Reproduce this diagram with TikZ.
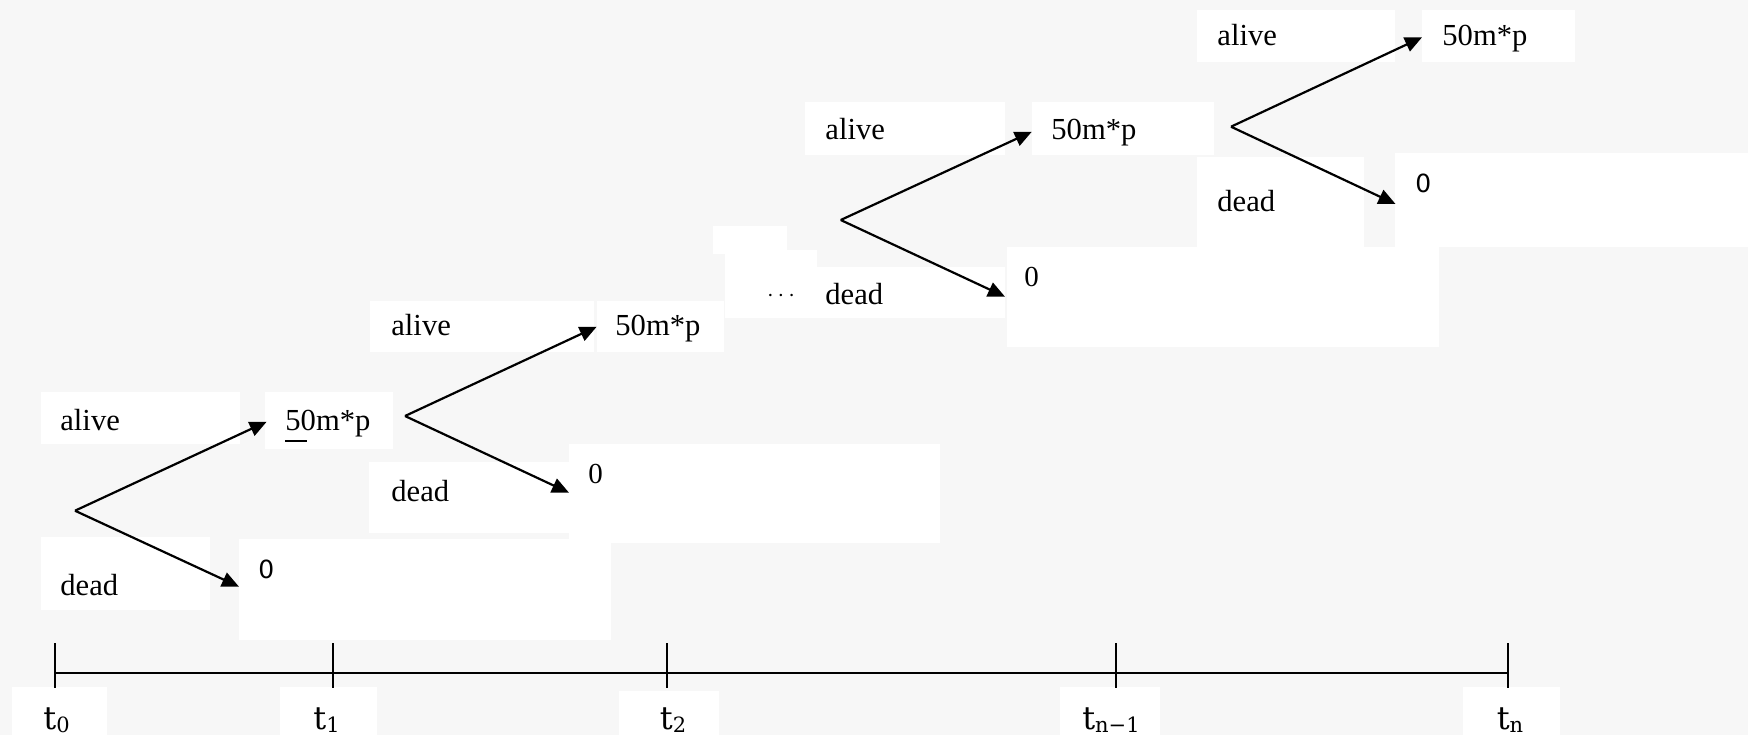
\documentclass[tikz,border=0pt]{standalone}
\usepackage{fontspec}
\setmainfont{Liberation Serif}
\newfontfamily\tfont{DejaVu Serif}
\newfontfamily\zfont{DejaVu Sans}
\usetikzlibrary{arrows.meta}
\newcommand{\tsub}[1]{{\fontsize{10.5}{12}\selectfont\raisebox{-1.5pt}{#1}}}
\begin{document}
\begin{tikzpicture}[x=0.5pt,y=-0.5pt,
  lbl/.style={inner sep=0pt, anchor=base west, font=\fontsize{15.3}{18}\selectfont},
  zlbl/.style={inner sep=0pt, anchor=base west, font=\zfont\fontsize{12.5}{15}\selectfont},
  zslbl/.style={inner sep=0pt, anchor=base west, font=\fontsize{14.5}{17}\selectfont},
  tlbl/.style={inner sep=0pt, anchor=base, font=\tfont\fontsize{16}{19}\selectfont},
  br/.style={line width=1.1pt, -{Triangle[length=8.5pt,width=7.5pt]}},
  axisline/.style={line width=0.9pt},
  wbox/.style={fill=white, draw=none}]
\useasboundingbox (0,0) rectangle (1748,735);
\fill[black!3] (0,0) rectangle (1748,735);
% white boxes behind texts
% tree 1
\fill[wbox] (41,392) rectangle (240,444);
\fill[wbox] (265,392) rectangle (393,449);
\fill[wbox] (41,537) rectangle (210,610);
\fill[wbox] (239,539) rectangle (611,640);
% tree 2
\fill[wbox] (370,301) rectangle (594,352);
\fill[wbox] (597,301) rectangle (724,352);
\fill[wbox] (369,462) rectangle (569,533);
\fill[wbox] (569,444) rectangle (940,543);
% tree 3
\fill[wbox] (805,102) rectangle (1005,155);
\fill[wbox] (1032,102) rectangle (1214,155);
\fill[wbox] (817,267) rectangle (1005,318);
\fill[wbox] (725,250) rectangle (817,318);
\fill[wbox] (713,226) rectangle (787,254);
\fill[wbox] (1007,247) rectangle (1439,347);
% tree 4
\fill[wbox] (1197,10) rectangle (1395,62);
\fill[wbox] (1422,10) rectangle (1575,62);
\fill[wbox] (1197,157) rectangle (1364,247);
\fill[wbox] (1395,153) rectangle (1748,247);
% time labels
\fill[wbox] (12,687) rectangle (107,735);
\fill[wbox] (280,687) rectangle (377,735);
\fill[wbox] (619,691) rectangle (719,735);
\fill[wbox] (1060,687) rectangle (1160,735);
\fill[wbox] (1463,687) rectangle (1560,735);

% ---------- tree 1
\coordinate (r1) at (75,510.7);
\coordinate (u1) at (266.7,421.7);
\coordinate (d1) at (239,586.7);
\node[lbl] (alive1) at (60,430) {alive};
\node[lbl] (dead1) at (60,595) {dead};
\node[lbl] (val1) at (285,430) {50m*p};
\node[zlbl] (zero1) at (258,578) {0};
\draw[line width=0.7pt] (val1.base west) ++(0,11) coordinate (ul1) -- ++(22,0) coordinate (ul2);
\draw[br] (r1) -- (u1);
\draw[br] (r1) -- (d1);

% ---------- tree 2
\coordinate (r2) at (405,416);
\coordinate (u2) at (596.7,326.7);
\coordinate (d2) at (569,492.7);
\node[lbl] (alive2) at (391,335) {alive};
\node[lbl] (dead2) at (391,501.7) {dead};
\node[lbl] (val2) at (615,335) {50m*p};
\node[zslbl] (zero2) at (588,483) {0};
\draw[br] (r2) -- (u2);
\draw[br] (r2) -- (d2);

% ---------- tree 3
\coordinate (r3) at (840.7,220);
\coordinate (u3) at (1031.8,131.7);
\coordinate (d3) at (1005,296.7);
\node[lbl] (alive3) at (825,139) {alive};
\node[lbl] (dead3) at (825,304) {dead};
\node[lbl] (val3) at (1051,139) {50m*p};
\node[zslbl] (zero3) at (1024,286) {0};
\node[inner sep=0pt, font=\fontsize{12}{14}\selectfont] (dots) at (781,296) {$\cdots$};
\draw[br] (r3) -- (u3);
\draw[br] (r3) -- (d3);

% ---------- tree 4
\coordinate (r4) at (1231,126.7);
\coordinate (u4) at (1422,37.3);
\coordinate (d4) at (1395.5,204);
\node[lbl] (alive4) at (1217,45) {alive};
\node[lbl] (dead4) at (1217,211.7) {dead};
\node[lbl] (val4) at (1442,45) {50m*p};
\node[zlbl] (zero4) at (1415,192.5) {0};
\draw[br] (r4) -- (u4);
\draw[br] (r4) -- (d4);

% ---------- time axis
\coordinate (k0) at (55,673);
\coordinate (k1) at (333,673);
\coordinate (k2) at (667,673);
\coordinate (k3) at (1116,673);
\coordinate (k4) at (1508,673);
\draw[axisline] (k0) -- (k4);
\foreach \k in {k0,k1,k2,k3,k4}{
  \draw[axisline] (\k) ++(0,-30) -- ++(0,45);
}
\node[tlbl] (t0) at (56.5,729) {t\tsub{0}};
\node[tlbl] (t1) at (326.5,729) {t\tsub{1}};
\node[tlbl] (t2) at (673,729) {t\tsub{2}};
\node[tlbl] (tn1) at (1111,729) {t\tsub{n−1}};
\node[tlbl] (tn) at (1510,729) {t\tsub{n}};
\end{tikzpicture}
\end{document}
